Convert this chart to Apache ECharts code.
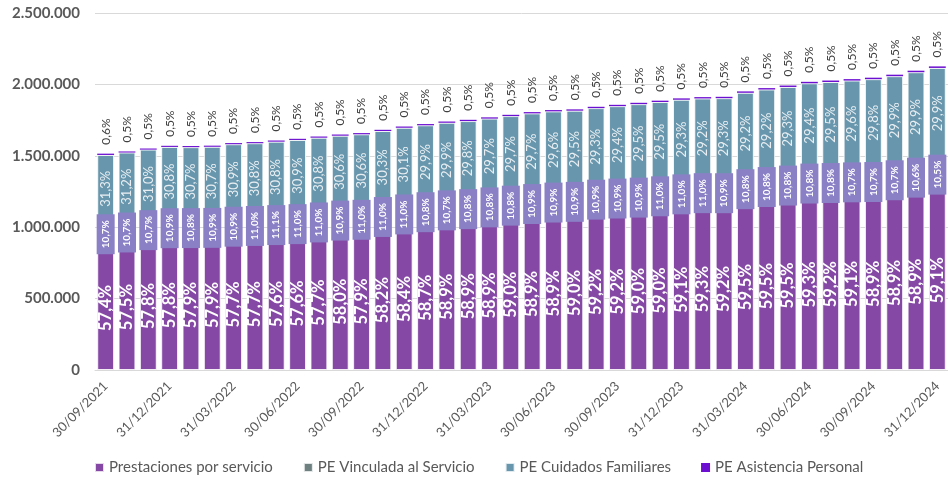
<!DOCTYPE html>
<html>
<head>
<meta charset="utf-8">
<script src="https://cdn.jsdelivr.net/npm/echarts@6/dist/echarts.min.js"></script>
<style>
    html, body { margin: 0; padding: 0; background: #fff; }
    #chart { width: 948px; height: 479px; }
</style>
</head>
<body>
<div id="chart"></div>
<script>
    // fechas de corte (fin de mes)
    var fechas = [
        '30/09/2021', '31/10/2021', '30/11/2021', '31/12/2021',
        '31/01/2022', '28/02/2022', '31/03/2022', '30/04/2022', '31/05/2022', '30/06/2022',
        '31/07/2022', '31/08/2022', '30/09/2022', '31/10/2022', '30/11/2022', '31/12/2022',
        '31/01/2023', '28/02/2023', '31/03/2023', '30/04/2023', '31/05/2023', '30/06/2023',
        '31/07/2023', '31/08/2023', '30/09/2023', '31/10/2023', '30/11/2023', '31/12/2023',
        '31/01/2024', '29/02/2024', '31/03/2024', '30/04/2024', '31/05/2024', '30/06/2024',
        '31/07/2024', '31/08/2024', '30/09/2024', '31/10/2024', '30/11/2024', '31/12/2024'
    ];

    // total de prestaciones por mes
    var totales = [
        1515000, 1532000, 1551000, 1570000, 1570000, 1571000, 1589000, 1596000, 1607000, 1619000,
        1635000, 1649000, 1659000, 1682000, 1705000, 1724000, 1740000, 1752000, 1771000, 1787000,
        1806000, 1822000, 1827000, 1845000, 1857000, 1873000, 1886000, 1904000, 1911000, 1915000,
        1951000, 1974000, 1990000, 2018000, 2027000, 2039000, 2049000, 2068000, 2098000, 2126000
    ];

    // % sobre el total
    var pctServicio = [
        57.4, 57.5, 57.8, 57.8, 57.9, 57.9, 57.7, 57.7, 57.6, 57.6,
        57.7, 58.0, 57.9, 58.2, 58.4, 58.7, 58.9, 58.9, 58.9, 59.0,
        58.9, 58.9, 59.0, 59.2, 59.2, 59.0, 59.0, 59.1, 59.3, 59.2,
        59.5, 59.5, 59.5, 59.3, 59.2, 59.1, 58.9, 58.9, 58.9, 59.1
    ];
    var pctVinculada = [
        10.7, 10.7, 10.7, 10.9, 10.8, 10.9, 10.9, 11.0, 11.1, 11.0,
        11.0, 10.9, 11.0, 11.0, 11.0, 10.8, 10.7, 10.8, 10.8, 10.8,
        10.9, 10.9, 10.9, 10.9, 10.9, 10.9, 11.0, 11.0, 11.0, 10.9,
        10.8, 10.8, 10.8, 10.8, 10.8, 10.7, 10.7, 10.7, 10.6, 10.5
    ];
    var pctCuidados = [
        31.3, 31.2, 31.0, 30.8, 30.7, 30.7, 30.9, 30.8, 30.8, 30.9,
        30.8, 30.6, 30.6, 30.3, 30.1, 29.9, 29.9, 29.8, 29.7, 29.7,
        29.7, 29.6, 29.5, 29.3, 29.4, 29.5, 29.5, 29.3, 29.2, 29.3,
        29.2, 29.2, 29.3, 29.4, 29.5, 29.6, 29.8, 29.9, 29.9, 29.9
    ];
    var pctAsistencia = [
        0.6, 0.5, 0.5, 0.5, 0.5, 0.5, 0.5, 0.5, 0.5, 0.5,
        0.5, 0.5, 0.5, 0.5, 0.5, 0.5, 0.5, 0.5, 0.5, 0.5,
        0.5, 0.5, 0.5, 0.5, 0.5, 0.5, 0.5, 0.5, 0.5, 0.5,
        0.5, 0.5, 0.5, 0.5, 0.5, 0.5, 0.5, 0.5, 0.5, 0.5
    ];

    var ticksY = [0, 500000, 1000000, 1500000, 2000000, 2500000];

    function miles(v) {
        return String(v).replace(/\B(?=(\d{3})+(?!\d))/g, '.');
    }
    function pct(v) {
        return v.toFixed(1).replace('.', ',') + '%';
    }
    function valores(p) {
        return p.map(function (v, i) { return Math.round(totales[i] * v / 100); });
    }

    var fuente = 'Lato';
    var borde = { borderColor: 'rgba(255,255,255,0.8)', borderWidth: 1 };

    var myChart = echarts.init(document.getElementById('chart'));
    myChart.setOption({
        animation: false,
        textStyle: { fontFamily: fuente },
        grid: { left: 95, right: -5, top: 13, bottom: 109 },
        legend: {
            left: 94,
            top: 460,
            padding: 0,
            icon: 'rect',
            itemWidth: 9,
            itemHeight: 9,
            itemGap: 30,
            textStyle: { fontFamily: fuente, fontSize: 15, color: '#595959' },
            data: ['Prestaciones por servicio', 'PE Vinculada al Servicio', 'PE Cuidados Familiares', 'PE Asistencia Personal']
        },
        xAxis: {
            type: 'category',
            data: fechas,
            axisLine: { lineStyle: { color: '#d9d9d9' } },
            axisTick: { interval: 0, length: 5, lineStyle: { color: '#d9d9d9' } },
            axisLabel: {
                interval: 2,
                rotate: 45,
                margin: 14,
                fontFamily: fuente,
                fontSize: 13,
                color: '#595959'
            }
        },
        yAxis: {
            type: 'value',
            min: ticksY[0],
            max: ticksY[ticksY.length - 1],
            interval: 500000,
            axisLine: { show: false },
            axisTick: { show: false },
            splitLine: { lineStyle: { color: '#d9d9d9' } },
            axisLabel: {
                margin: 15,
                fontFamily: fuente,
                fontSize: 15,
                fontWeight: 'bold',
                color: '#595959',
                formatter: function (v) { return miles(v); }
            }
        },
        series: [
            {
                name: 'Prestaciones por servicio',
                type: 'bar',
                stack: 'total',
                barCategoryGap: '21%',
                data: valores(pctServicio),
                itemStyle: Object.assign({ color: '#8549a5' }, borde),
                label: {
                    show: true,
                    position: 'inside',
                    rotate: 90,
                    color: '#fff',
                    fontFamily: fuente,
                    fontSize: 16.5,
                    fontWeight: 'bold',
                    formatter: function (p) { return pct(pctServicio[p.dataIndex]); }
                }
            },
            {
                name: 'PE Vinculada al Servicio',
                type: 'bar',
                stack: 'total',
                data: valores(pctVinculada),
                itemStyle: Object.assign({ color: '#6e8080' }, borde),
                label: {
                    show: true,
                    position: 'inside',
                    rotate: 90,
                    color: '#fff',
                    fontFamily: fuente,
                    fontSize: 10,
                    fontWeight: 'bold',
                    backgroundColor: '#8a80c6',
                    padding: [4, 6],
                    formatter: function (p) { return pct(pctVinculada[p.dataIndex]); }
                }
            },
            {
                name: 'PE Cuidados Familiares',
                type: 'bar',
                stack: 'total',
                data: valores(pctCuidados),
                itemStyle: Object.assign({ color: '#6897ad' }, borde),
                label: {
                    show: true,
                    position: 'inside',
                    rotate: 90,
                    color: '#e8eef2',
                    fontFamily: fuente,
                    fontSize: 13,
                    formatter: function (p) { return pct(pctCuidados[p.dataIndex]); }
                }
            },
            {
                name: 'PE Asistencia Personal',
                type: 'bar',
                stack: 'total',
                data: valores(pctAsistencia),
                itemStyle: { color: '#6d0fd0' },
                label: {
                    show: true,
                    position: 'top',
                    rotate: 90,
                    align: 'left',
                    verticalAlign: 'middle',
                    distance: 9,
                    color: '#404040',
                    fontFamily: fuente,
                    fontSize: 12,
                    formatter: function (p) { return pct(pctAsistencia[p.dataIndex]); }
                }
            }
        ]
    });
</script>
</body>
</html>
